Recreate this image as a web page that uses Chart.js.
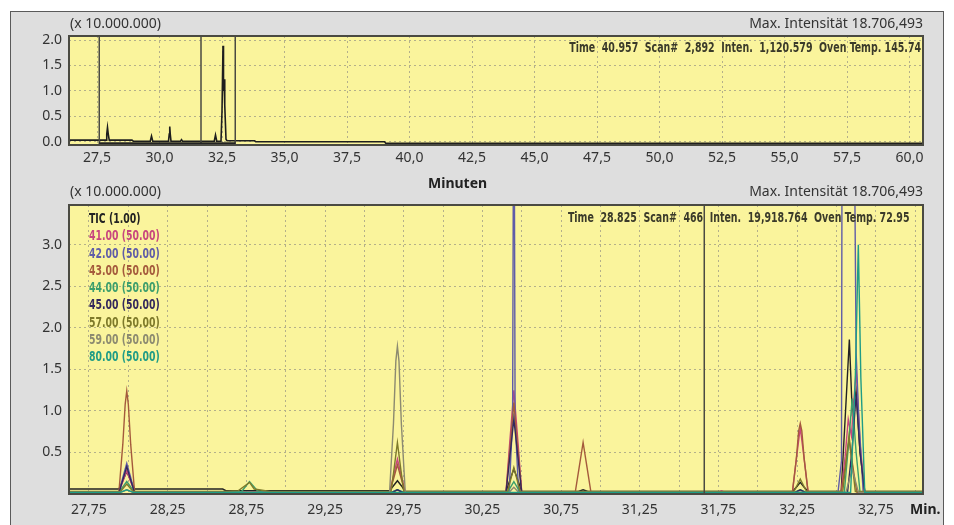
<!DOCTYPE html>
<html>
<head>
<meta charset="utf-8">
<script src="https://cdn.jsdelivr.net/npm/chart.js@4.4.1/dist/chart.umd.min.js"></script>
<style>
  body { margin: 0; background: #fff; width: 954px; height: 525px; overflow: hidden; font-family: "Noto Sans", sans-serif; }
  #panel { position: absolute; left: 10px; top: 11px; width: 932px; height: 520px; background: #dedede; border: 1.5px solid #5a5a5a; }
  canvas { position: absolute; left: 10px; }
  .lbl { position: absolute; font-size: 14px; line-height: 16px; color: #333; white-space: nowrap; }
  .bold { font-weight: bold; color: #222; }
  .info { position: absolute; font-family: "Liberation Sans Narrow", "DejaVu Sans Condensed", sans-serif; font-weight: bold; font-size: 14px; line-height: 14px; color: #3a3a2a; white-space: pre; transform: scaleX(0.75); transform-origin: right center; }
  #legend { position: absolute; left: 89px; top: 210px; font-family: "Liberation Sans Narrow", "DejaVu Sans Condensed", sans-serif; font-weight: bold; font-size: 14px; line-height: 17.25px; white-space: pre; transform: scaleX(0.74); transform-origin: left center; }
</style>
</head>
<body>
<div id="panel"></div>
<canvas id="top-chart" width="934" height="170" style="top:11px"></canvas>
<canvas id="bottom-chart" width="934" height="345" style="top:180px"></canvas>

<div class="lbl" style="left:70px;top:15px">(x 10.000.000)</div>
<div class="lbl" style="right:31px;top:15px">Max. Intensität 18.706,493</div>
<div class="info" style="right:33px;top:40px">Time  40.957  Scan#  2,892  Inten.  1,120.579  Oven Temp. 145.74</div>
<div class="lbl bold" style="left:428px;top:175px">Minuten</div>
<div class="lbl" style="left:70px;top:183px">(x 10.000.000)</div>
<div class="lbl" style="right:31px;top:183px">Max. Intensität 18.706,493</div>
<div class="info" style="right:45px;top:210px">Time  28.825  Scan#  466  Inten.  19,918.764  Oven Temp. 72.95</div>
<div id="legend"></div>
<div class="lbl bold" style="left:910px;top:501px">Min.</div>

<script>
// --- data: [minutes, intensity (x 10.000.000)] ---
const topTicTrace = [[26.38,0.03],[27.86,0.03],[27.89,0.15],[27.92,0.28],[27.95,0.15],[27.99,0.03],[28.9,0.03],[28.95,0.01],[29.63,0.01],[29.68,0.11],[29.73,0.01],[30.36,0.01],[30.39,0.15],[30.41,0.3],[30.43,0.15],[30.46,0.01],[30.84,0.01],[30.88,0.04],[30.92,0.01],[32.19,0.01],[32.24,0.13],[32.29,0.01],[32.46,0.01],[32.5,0.6],[32.54,1.89],[32.56,1.0],[32.58,1.23],[32.6,0.9],[32.62,0.72],[32.66,0.05],[32.7,0.02],[33.8,0.02],[33.85,0.0],[39.0,0.0],[39.05,-0.03],[60.54,-0.03]];
const markerTimes = [27.59, 31.66, 33.03];
const rangeBar = [[27.59,-0.04],[33.03,-0.04]];

const ionLabels = ['TIC (1.00)','41.00 (50.00)','42.00 (50.00)','43.00 (50.00)','44.00 (50.00)','45.00 (50.00)','57.00 (50.00)','59.00 (50.00)','80.00 (50.00)'];
const ionColors = ['#222222','#c8467e','#5f5ca8','#a45a3c','#3c9e6c','#33285c','#7e7a2a','#8c8a70','#1f9c86'];

const ticTrace = [[27.62,0.06],[27.94,0.06],[27.965,0.16],[27.99,0.27],[28.015,0.16],[28.04,0.06],[28.6,0.06],[28.62,0.04],[29.66,0.04],[29.685,0.1],[29.71,0.16],[29.735,0.1],[29.76,0.03],[30.4,0.03],[30.425,0.17],[30.45,0.3],[30.475,0.17],[30.5,0.03],[30.86,0.03],[30.89,0.05],[30.92,0.03],[32.22,0.03],[32.245,0.08],[32.27,0.14],[32.295,0.08],[32.32,0.03],[32.53,0.03],[32.555,0.9],[32.582,1.86],[32.6,1.0],[32.625,1.25],[32.65,0.5],[32.68,0.03],[33.05,0.03]];
const ion41 = [[27.62,0.02],[27.94,0.02],[27.965,0.15],[27.99,0.28],[28.015,0.15],[28.04,0.02],[29.66,0.02],[29.685,0.22],[29.71,0.42],[29.735,0.22],[29.76,0.02],[30.4,0.02],[30.425,0.65],[30.45,1.25],[30.475,0.65],[30.5,0.02],[31.75,0.02],[31.77,0.04],[31.79,0.02],[32.22,0.02],[32.245,0.42],[32.27,0.8],[32.295,0.42],[32.32,0.02],[32.53,0.02],[32.555,0.45],[32.575,0.9],[32.595,0.7],[32.625,1.5],[32.65,0.6],[32.68,0.02],[33.05,0.02]];
const ion42 = [[27.62,0.02],[27.94,0.02],[27.965,0.2],[27.99,0.37],[28.015,0.2],[28.04,0.02],[29.67,0.02],[29.71,0.05],[29.75,0.02],[30.42,0.02],[30.442,0.9],[30.45,6.0],[30.458,0.9],[30.48,0.02],[32.51,0.02],[32.532,0.4],[32.537,6.0],[32.607,6.0],[32.625,1.7],[32.64,1.0],[32.67,0.02],[33.05,0.02]];
const ion43 = [[27.62,0.02],[27.94,0.02],[27.965,0.6],[27.98,1.08],[27.99,1.24],[28.0,1.08],[28.015,0.6],[28.04,0.02],[29.66,0.02],[29.685,0.18],[29.71,0.35],[29.735,0.18],[29.76,0.02],[30.4,0.02],[30.425,0.55],[30.45,1.1],[30.475,0.55],[30.5,0.02],[30.84,0.02],[30.865,0.32],[30.89,0.62],[30.915,0.32],[30.94,0.02],[32.22,0.02],[32.245,0.42],[32.26,0.76],[32.27,0.85],[32.28,0.76],[32.295,0.42],[32.32,0.02],[32.53,0.02],[32.555,0.32],[32.58,0.65],[32.605,0.32],[32.63,0.02],[33.05,0.02]];
const ion44 = [[27.62,0.02],[27.94,0.02],[27.99,0.15],[28.04,0.02],[28.72,0.03],[28.77,0.15],[28.82,0.04],[28.86,0.02],[29.67,0.02],[29.71,0.05],[29.75,0.02],[30.41,0.02],[30.45,0.15],[30.49,0.02],[32.23,0.02],[32.27,0.05],[32.31,0.02],[32.55,0.02],[32.577,0.6],[32.6,1.15],[32.625,0.5],[32.65,0.02],[33.05,0.02]];
const ion45 = [[27.62,0.01],[27.94,0.01],[27.965,0.17],[27.99,0.33],[28.015,0.17],[28.04,0.01],[29.67,0.01],[29.71,0.05],[29.75,0.01],[30.4,0.01],[30.425,0.46],[30.45,0.9],[30.475,0.46],[30.5,0.01],[32.23,0.01],[32.27,0.05],[32.31,0.01],[32.57,0.01],[32.6,0.55],[32.625,1.2],[32.65,0.5],[32.68,0.01],[33.05,0.01]];
const ion57 = [[27.62,0.03],[27.95,0.03],[27.99,0.12],[28.03,0.03],[28.6,0.03],[28.7,0.04],[28.77,0.14],[28.8,0.06],[28.9,0.03],[29.67,0.03],[29.69,0.32],[29.71,0.62],[29.73,0.32],[29.75,0.03],[30.41,0.03],[30.45,0.32],[30.49,0.03],[32.23,0.03],[32.27,0.18],[32.31,0.03],[32.54,0.03],[32.58,0.7],[32.62,0.03],[33.05,0.03]];
const ion59 = [[27.62,0.02],[27.95,0.02],[27.99,0.05],[28.03,0.02],[29.66,0.02],[29.685,0.85],[29.7,1.6],[29.71,1.78],[29.72,1.6],[29.735,0.85],[29.76,0.02],[30.42,0.02],[30.45,0.08],[30.48,0.02],[32.56,0.02],[32.6,0.3],[32.64,0.02],[33.05,0.02]];
const ion80 = [[27.62,0.02],[27.95,0.02],[27.99,0.05],[28.03,0.02],[32.59,0.02],[32.62,1.4],[32.639,3.0],[32.655,1.4],[32.68,0.02],[33.05,0.02]];
const ionTraces = [ticTrace, ion41, ion42, ion43, ion44, ion45, ion57, ion59, ion80];

const topXTicks = { min: 26.38, max: 60.54, step: 2.5 };
const topYTicks = { min: -0.065, max: 2.08, step: 0.5 };
const bottomXTicks = { min: 27.623, max: 33.05, step: 0.25 };
const bottomYTicks = { min: 0, max: 3.48, step: 0.5 };
const cursorTime = 31.66;

const toXY = arr => arr.map(p => ({ x: p[0], y: p[1] }));

// legend
document.getElementById('legend').innerHTML = ionLabels.map((l, i) => `<div style="color:${ionColors[i]}">${l}</div>`).join('');

const plotFrame = {
    id: 'plotFrame',
    beforeDraw(chart) {
        const { ctx, chartArea: a } = chart;
        ctx.save(); ctx.fillStyle = '#faf49c'; ctx.fillRect(a.left, a.top, a.right - a.left, a.bottom - a.top); ctx.restore();
    },
    afterDraw(chart) {
        const { ctx, chartArea: a } = chart;
        ctx.save(); ctx.strokeStyle = '#4a4a42'; ctx.lineWidth = 2; ctx.strokeRect(a.left, a.top, a.right - a.left, a.bottom - a.top); ctx.restore();
    }
};

function axes(xr, yr, xLabel, yLabel, xPad) {
    return {
        x: { type: 'linear', min: xr.min, max: xr.max,
             grid: { color: '#b4b08a', lineWidth: 1, drawTicks: false },
             border: { display: false, dash: [2, 3] },
             afterFit: s => { s.height = xPad.h; },
             ticks: { stepSize: xr.step, includeBounds: false, maxRotation: 0, autoSkip: false, padding: xPad.p, color: '#333', font: { family: 'Noto Sans', size: 14 }, callback: xLabel } },
        y: { type: 'linear', min: yr.min, max: yr.max,
             grid: { color: '#b4b08a', lineWidth: 1, drawTicks: false },
             border: { display: false, dash: [2, 3] },
             afterFit: s => { s.width = 59; },
             ticks: { stepSize: yr.step, includeBounds: false, padding: 7, color: '#333', font: { family: 'Noto Sans', size: 14 }, callback: yLabel } }
    };
}

const commonOpts = { responsive: false, animation: false, devicePixelRatio: 1, plugins: { legend: { display: false }, tooltip: { enabled: false } } };

// top: full TIC run
const topSets = [
    { data: toXY(rangeBar), borderColor: '#222', borderWidth: 3, pointRadius: 0 },
    ...markerTimes.map(t => ({ data: [{ x: t, y: topYTicks.min }, { x: t, y: topYTicks.max }], borderColor: '#4a4a42', borderWidth: 1.5, pointRadius: 0 })),
    { data: toXY(topTicTrace), borderColor: '#1e1e1e', borderWidth: 1.6, pointRadius: 0 }
];
new Chart(document.getElementById('top-chart'), {
    type: 'line',
    data: { datasets: topSets },
    options: { ...commonOpts, layout: { padding: { top: 25, right: 21, left: 0, bottom: 0 } },
        scales: axes(topXTicks, topYTicks,
            v => v.toFixed(1).replace('.', ','),
            v => v.toFixed(1), { h: 36, p: 5 }) },
    plugins: [plotFrame]
});

// bottom: zoomed mass chromatograms
const bottomSets = [
    { data: [{ x: cursorTime, y: 0 }, { x: cursorTime, y: bottomYTicks.max }], borderColor: '#4a4a42', borderWidth: 1.5, pointRadius: 0 },
    ...ionTraces.map((tr, i) => ({ data: toXY(tr), borderColor: ionColors[i], borderWidth: 1.4, pointRadius: 0 })).reverse()
];
new Chart(document.getElementById('bottom-chart'), {
    type: 'line',
    data: { datasets: bottomSets },
    options: { ...commonOpts, layout: { padding: { top: 25, right: 21, left: 0, bottom: 0 } },
        scales: axes(bottomXTicks, bottomYTicks,
            v => (Math.abs(((v - 27.75) / 0.5) - Math.round((v - 27.75) / 0.5)) < 1e-6 ? v.toFixed(2).replace('.', ',') : ''),
            v => (v === 0 ? '' : v.toFixed(1)), { h: 31, p: 8 }) },
    plugins: [plotFrame]
});
</script>
</body>
</html>
